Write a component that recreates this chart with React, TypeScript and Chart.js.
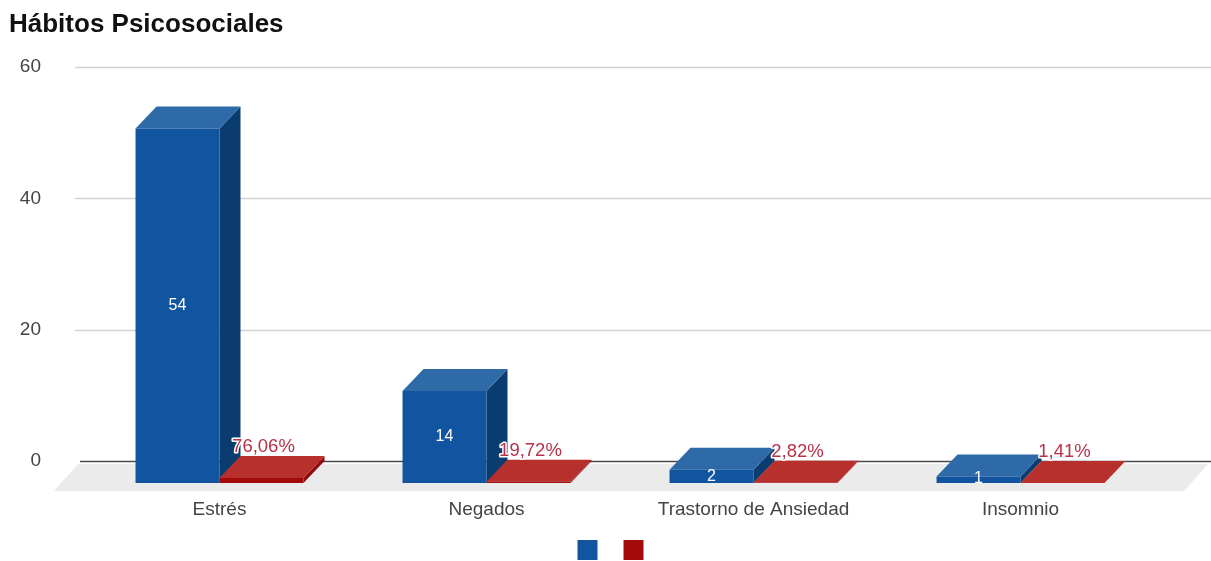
import React, { useEffect, useRef } from "react";
import { Chart, registerables } from "chart.js";

Chart.register(...registerables);

const TITLE = "Hábitos Psicosociales";
const categories = ["Estrés", "Negados", "Trastorno de Ansiedad", "Insomnio"];
const counts = [54, 14, 2, 1];
const shares = [0.7606, 0.1972, 0.0282, 0.0141];
const yTicks = [60, 40, 20, 0];

const FONT = "'Liberation Sans', Arial, sans-serif";
const DX = 21;
const DY = -22;
const BLUE = { front: "#11549f", top: "#2f6aa8", side: "#0b3c6f" };
const RED = { front: "#a30a0a", top: "#b8302c", side: "#8f0a0a" };

const fmtShare = (v: number) => (v * 100).toFixed(2).replace(".", ",") + "%";

const box3d = {
  id: "box3d",
  afterLayout(chart: any) {
    const lg = chart.legend;
    lg.left += 33;
    lg.right += 33;
    lg.top += 9;
    lg.bottom += 9;
    chart.scales.x.bottom = chart.height;
  },
  beforeDatasetsDraw(chart: any) {
    const { ctx } = chart;
    const y = chart.scales.y;
    ctx.save();
    // floor
    const zero = y.getPixelForValue(0);
    ctx.fillStyle = "#ebebeb";
    ctx.beginPath();
    ctx.moveTo(78, zero + 3);
    ctx.lineTo(1208, zero + 3);
    ctx.lineTo(1184, zero + 30);
    ctx.lineTo(54, zero + 30);
    ctx.closePath();
    ctx.fill();
    // grid lines running past the category band
    yTicks.forEach((t) => {
      const py = Math.round(y.getPixelForValue(t)) + 0.5;
      ctx.beginPath();
      ctx.moveTo(t === 0 ? 80 : 75, py);
      ctx.lineTo(1211, py);
      ctx.lineWidth = 1.5;
      ctx.strokeStyle = t === 0 ? "#4a4a4a" : "#d2d2d2";
      ctx.stroke();
    });
    // top and side faces
    chart.data.datasets.forEach((ds: any, i: number) => {
      const c = i === 0 ? BLUE : RED;
      chart.getDatasetMeta(i).data.forEach((bar: any) => {
        const l = bar.x - bar.width / 2;
        const r = bar.x + bar.width / 2;
        const t = bar.y;
        const b = bar.base;
        ctx.fillStyle = c.side;
        ctx.beginPath();
        ctx.moveTo(r, t);
        ctx.lineTo(r + DX, t + DY);
        ctx.lineTo(r + DX, b + DY);
        ctx.lineTo(r, b);
        ctx.closePath();
        ctx.fill();
        ctx.fillStyle = c.top;
        ctx.beginPath();
        ctx.moveTo(l, t);
        ctx.lineTo(l + DX, t + DY);
        ctx.lineTo(r + DX, t + DY);
        ctx.lineTo(r, t);
        ctx.closePath();
        ctx.fill();
      });
    });
    ctx.restore();
  },
  afterDatasetsDraw(chart: any) {
    const { ctx } = chart;
    ctx.save();
    ctx.textAlign = "center";
    ctx.textBaseline = "middle";
    ctx.lineJoin = "round";
    chart.getDatasetMeta(0).data.forEach((bar: any, i: number) => {
      ctx.font = `16px ${FONT}`;
      ctx.fillStyle = "#ffffff";
      ctx.fillText(String(counts[i]), bar.x, Math.min((bar.y + bar.base) / 2, bar.base - 4));
    });
    chart.getDatasetMeta(1).data.forEach((bar: any, i: number) => {
      ctx.font = `18.5px ${FONT}`;
      const label = fmtShare(shares[i]);
      const px = bar.x + 2;
      const py = bar.y - 31;
      ctx.strokeStyle = "#ffffff";
      ctx.lineWidth = 3;
      ctx.strokeText(label, px, py);
      ctx.fillStyle = "#b5324a";
      ctx.fillText(label, px, py);
    });
    ctx.restore();
  },
};

export default function App() {
  const ref = useRef<HTMLCanvasElement>(null);
  useEffect(() => {
    const chart = new Chart(ref.current as HTMLCanvasElement, {
      type: "bar",
      data: {
        labels: categories,
        datasets: [
          { label: "", data: counts, backgroundColor: BLUE.front, yAxisID: "bars", barPercentage: 1, categoryPercentage: 0.629 },
          { label: "", data: shares, backgroundColor: RED.front, yAxisID: "bars", barPercentage: 1, categoryPercentage: 0.629 },
        ],
      },
      plugins: [box3d],
      options: {
        animation: false,
        responsive: false,
        layout: { padding: { left: 9, right: 57, top: 0, bottom: 0 } },
        plugins: {
          title: {
            display: true,
            text: TITLE,
            align: "start",
            color: "#111111",
            font: { family: FONT, size: 26, weight: "bold" },
            padding: { top: 9, bottom: 26.8 },
          },
          legend: {
            display: true,
            position: "bottom",
            labels: { boxWidth: 20, boxHeight: 20, padding: 18, font: { size: 16 } },
          },
          tooltip: { enabled: false },
        },
        scales: {
          x: {
            grid: { display: false },
            border: { display: false },
            ticks: { color: "#444444", font: { family: FONT, size: 19 }, padding: 7, maxRotation: 0, autoSkip: false },
            afterFit: (s: any) => {
              s.height = 30;
            },
          },
          y: {
            position: "left",
            min: -3.35,
            max: 60,
            grid: { display: false, drawTicks: false },
            border: { display: false },
            ticks: { color: "#444444", font: { family: FONT, size: 19 }, padding: 45, callback: (v: any) => String(v) },
            afterBuildTicks: (s: any) => {
              s.ticks = yTicks.map((value) => ({ value }));
            },
            afterFit: (s: any) => {
              s.width = 77;
            },
          },
          bars: { display: false, position: "left", min: 0, max: 63.35 },
        },
      } as any,
    });
    return () => chart.destroy();
  }, []);
  return (
    <div style={{ position: "fixed", left: 0, top: 0, width: 1211, height: 561, background: "#fff" }}>
      <canvas ref={ref} width={1211} height={561} style={{ display: "block", width: 1211, height: 561 }} />
    </div>
  );
}
